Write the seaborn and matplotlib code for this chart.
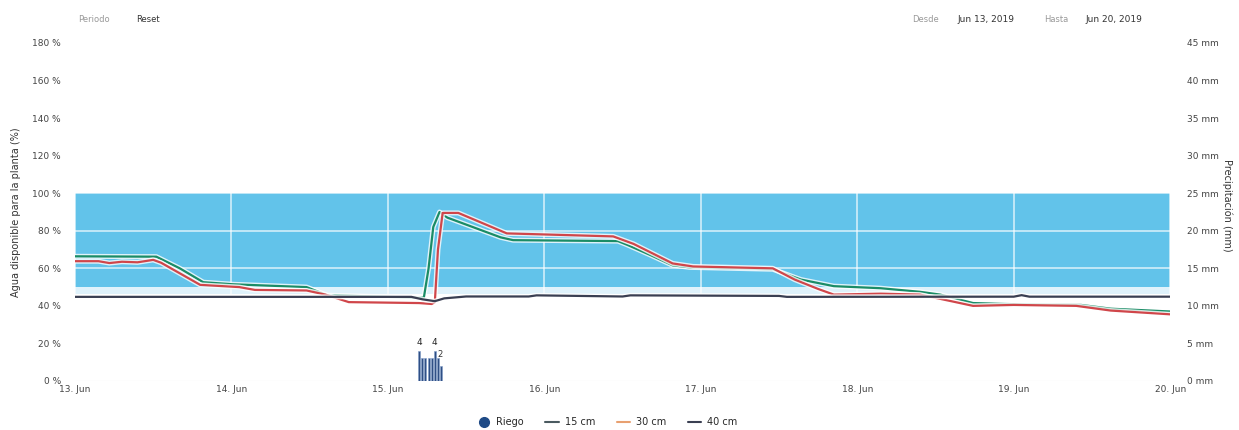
import numpy as np
import pandas as pd
import matplotlib
matplotlib.use("Agg")
import matplotlib.pyplot as plt
import matplotlib.patheffects as pe
from matplotlib.lines import Line2D
import seaborn as sns

# ---------------- data (days since 13 Jun 2019) ----------------
day_labels = ["13. Jun", "14. Jun", "15. Jun", "16. Jun", "17. Jun", "18. Jun", "19. Jun", "20. Jun"]
left_ticks = [0, 20, 40, 60, 80, 100, 120, 140, 160, 180]
right_ticks = [0, 5, 10, 15, 20, 25, 30, 35, 40, 45]

t_15 = [0.00, 0.52, 0.67, 0.82, 1.01, 1.48, 1.61, 2.21, 2.23, 2.26, 2.29, 2.33, 2.38, 2.72, 2.80,
        3.47, 3.53, 3.68, 3.82, 3.93, 4.46, 4.64, 4.85, 5.15, 5.40, 5.53, 5.74, 6.04, 6.43, 6.62, 7.00]
v_15 = [66.4, 66.2, 60.0, 52.6, 51.5, 50.0, 45.7, 44.3, 44.5, 60.0, 82.0, 90.0, 87.0, 76.5, 75.0,
        74.5, 72.5, 67.0, 61.6, 60.5, 59.5, 54.0, 50.5, 49.4, 47.5, 46.0, 41.5, 40.8, 40.5, 38.5, 37.0]

t_30 = [0.00, 0.15, 0.22, 0.30, 0.40, 0.50, 0.55, 0.80, 1.05, 1.15, 1.48, 1.60, 1.75, 2.20, 2.28,
        2.30, 2.32, 2.35, 2.45, 2.76, 3.44, 3.57, 3.82, 3.95, 4.46, 4.60, 4.75, 4.85, 5.15, 5.40,
        5.60, 5.74, 6.00, 6.40, 6.62, 7.00]
v_30 = [63.8, 63.8, 62.8, 63.5, 63.2, 64.5, 63.0, 51.2, 50.0, 48.5, 48.2, 46.0, 42.0, 41.5, 41.0,
        42.0, 70.0, 89.5, 89.5, 78.6, 77.0, 73.0, 62.6, 61.0, 60.0, 54.0, 49.0, 46.0, 46.5, 46.0,
        42.5, 40.0, 40.5, 40.0, 37.5, 35.5]

t_40 = [0.00, 2.15, 2.22, 2.30, 2.36, 2.50, 2.90, 2.95, 3.50, 3.55, 4.50, 4.55, 6.00, 6.05, 6.10, 7.00]
v_40 = [44.8, 44.8, 43.5, 42.5, 44.0, 45.0, 45.0, 45.6, 45.0, 45.6, 45.3, 44.8, 44.9, 45.7, 44.9, 44.9]

riego_t = [2.20, 2.22, 2.24, 2.26, 2.28, 2.30, 2.32, 2.34]
riego_mm = [4, 3, 3, 3, 3, 4, 3, 2]

band_lo, band_hi = 50, 100

# ---------------- figure ----------------
sns.set_theme(style="white")
plt.rcParams["font.family"] = ["DejaVu Sans"]

fig = plt.figure(figsize=(12.39, 4.30), dpi=100)
ax = fig.add_axes([0.0605, 0.114, 0.884, 0.786])
ax2 = ax.twinx()

ax.set_xlim(0, 7)
ax.set_ylim(0, 180)
ax2.set_ylim(0, 45)

# background band
ax.axhspan(46.5, band_lo, color="#dff2fb", zorder=0, lw=0)
ax.axhspan(band_lo, band_hi, color="#62c3ea", zorder=0, lw=0)
ax.set_yticks(left_ticks)
ax.set_yticklabels([f"{v} %" for v in left_ticks])
ax.set_xticks(range(len(day_labels)))
ax.set_xticklabels(day_labels)
ax.grid(True, color="white", lw=1.2, alpha=0.7, zorder=1)
ax.set_axisbelow(True)

df = pd.concat([
    pd.DataFrame({"t": t_15, "v": v_15, "serie": "15 cm"}),
    pd.DataFrame({"t": t_30, "v": v_30, "serie": "30 cm"}),
    pd.DataFrame({"t": t_40, "v": v_40, "serie": "40 cm"}),
])
palette = {"15 cm": "#1a8c66", "30 cm": "#d0464a", "40 cm": "#3a3f52"}
sns.lineplot(data=df, x="t", y="v", hue="serie", palette=palette, ax=ax,
             lw=1.6, legend=False, estimator=None, sort=False, zorder=3)
for ln in ax.get_lines():
    ln.set_path_effects([pe.Stroke(linewidth=3.6, foreground="white", alpha=0.8), pe.Normal()])

# irrigation bars
ax2.bar(riego_t, riego_mm, width=0.013, color="#2f4f85", edgecolor="#7f9cc8", lw=0.4, zorder=4)
for tt, mm in zip(riego_t, riego_mm):
    if mm == 4:
        ax2.text(tt, mm + 0.5, "4", ha="center", va="bottom", fontsize=6.5, color="#222")
ax2.text(riego_t[-2] + 0.01, 2.9, "2", ha="center", va="bottom", fontsize=6, color="#333")
ax2.set_yticks(right_ticks)
ax2.set_yticklabels([f"{v} mm" for v in right_ticks])
ax2.grid(False)

for a in (ax, ax2):
    for s in a.spines.values():
        s.set_visible(False)
    a.tick_params(axis="both", length=0, labelsize=6.5, colors="#444")
ax.tick_params(axis="y", pad=10)
ax2.tick_params(axis="y", pad=12)
ax.tick_params(axis="x", pad=3)
ax.axhline(0, color="#e3e3e3", lw=0.8, zorder=1)

ax.set_xlabel("")
ax.set_ylabel("Agua disponible para la planta (%)", fontsize=7, color="#333", labelpad=8)
ax2.set_ylabel("Precipitación (mm)", fontsize=7, color="#333", rotation=-90, va="center")
ax2.yaxis.set_label_coords(1.052, 0.52)

# header texts
fig.text(0.063, 0.948, "Periodo", fontsize=6, color="#999")
fig.text(0.110, 0.948, "Reset", fontsize=6, color="#333")
fig.text(0.736, 0.948, "Desde", fontsize=6, color="#999")
fig.text(0.773, 0.948, "Jun 13, 2019", fontsize=6.5, color="#333")
fig.text(0.843, 0.948, "Hasta", fontsize=6, color="#999")
fig.text(0.876, 0.948, "Jun 20, 2019", fontsize=6.5, color="#333")

# legend
handles = [
    Line2D([], [], marker="o", ls="", color="#1f4a86", markersize=7),
    Line2D([], [], color="#4a5a60", lw=1.5),
    Line2D([], [], color="#e8a070", lw=1.5),
    Line2D([], [], color="#3a3f52", lw=1.5),
]
fig.legend(handles, ["Riego", "15 cm", "30 cm", "40 cm"], loc="center", ncol=4,
           bbox_to_anchor=(0.49, 0.018), frameon=False, fontsize=7, handlelength=1.4,
           columnspacing=2.2, handletextpad=0.6)

fig.savefig("out.png", dpi=100)
